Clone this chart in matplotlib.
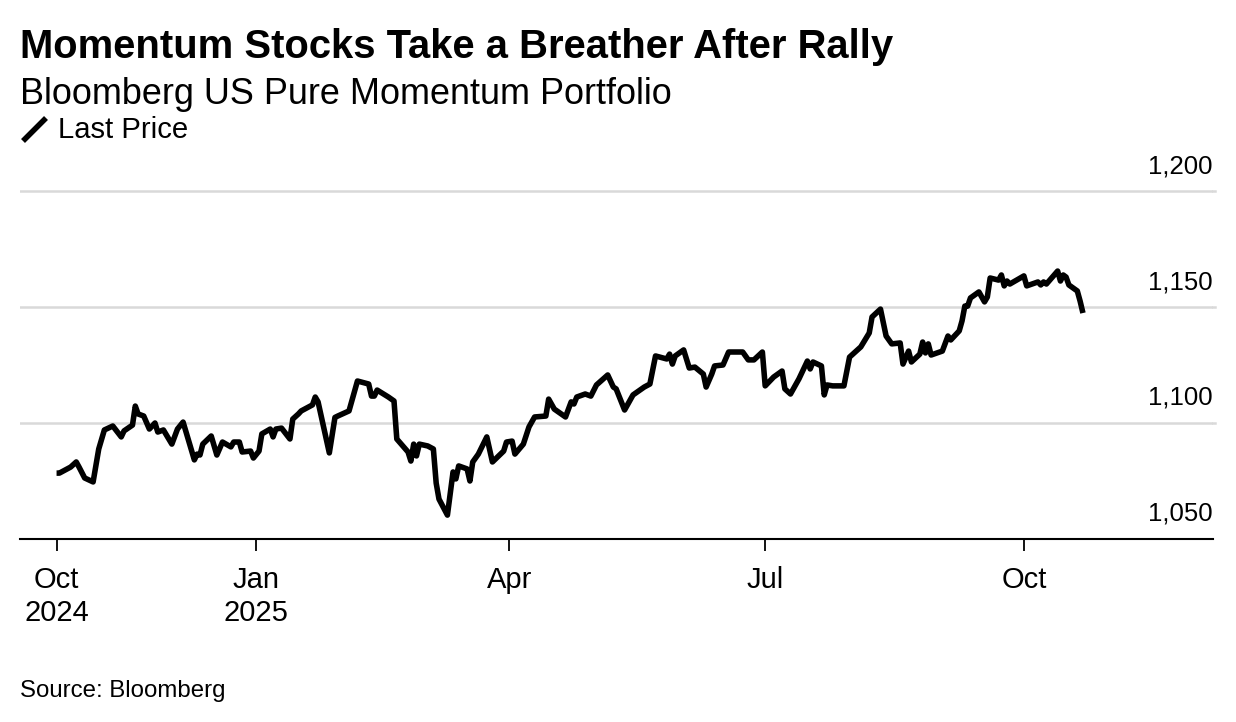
import pandas as pd
import matplotlib
matplotlib.use("Agg")
import matplotlib.pyplot as plt
import matplotlib.transforms as mtransforms
from matplotlib.lines import Line2D

plt.rcParams['font.family'] = ['Liberation Sans', 'DejaVu Sans']

# Bloomberg US Pure Momentum Portfolio, last price
dates = [
    "2024-10-22", "2024-10-23", "2024-10-27", "2024-10-29", "2024-10-30", "2024-11-01",
    "2024-11-04", "2024-11-06", "2024-11-08", "2024-11-11", "2024-11-14", "2024-11-15",
    "2024-11-18", "2024-11-19", "2024-11-20", "2024-11-22", "2024-11-24", "2024-11-26",
    "2024-11-27", "2024-11-29", "2024-12-02", "2024-12-04", "2024-12-06", "2024-12-10",
    "2024-12-11", "2024-12-12", "2024-12-13", "2024-12-16", "2024-12-18", "2024-12-20",
    "2024-12-23", "2024-12-24", "2024-12-26", "2024-12-27", "2024-12-30", "2024-12-31",
    "2025-01-02", "2025-01-03", "2025-01-06", "2025-01-07", "2025-01-08", "2025-01-10",
    "2025-01-13", "2025-01-14", "2025-01-16", "2025-01-17", "2025-01-21", "2025-01-22",
    "2025-01-23", "2025-01-27", "2025-01-29", "2025-01-30", "2025-02-03", "2025-02-06",
    "2025-02-10", "2025-02-11", "2025-02-12", "2025-02-13", "2025-02-17", "2025-02-19",
    "2025-02-20", "2025-02-24", "2025-02-25", "2025-02-26", "2025-02-27", "2025-02-28",
    "2025-03-03", "2025-03-05", "2025-03-06", "2025-03-07", "2025-03-10", "2025-03-12",
    "2025-03-13", "2025-03-14", "2025-03-17", "2025-03-18", "2025-03-19", "2025-03-21",
    "2025-03-24", "2025-03-26", "2025-03-30", "2025-03-31", "2025-04-02", "2025-04-03",
    "2025-04-06", "2025-04-08", "2025-04-10", "2025-04-14", "2025-04-15", "2025-04-17",
    "2025-04-21", "2025-04-23", "2025-04-24", "2025-04-25", "2025-04-28", "2025-04-30",
    "2025-05-02", "2025-05-06", "2025-05-08", "2025-05-09", "2025-05-12", "2025-05-15",
    "2025-05-19", "2025-05-21", "2025-05-23", "2025-05-27", "2025-05-28", "2025-05-29",
    "2025-05-30", "2025-06-02", "2025-06-04", "2025-06-06", "2025-06-09", "2025-06-10",
    "2025-06-12", "2025-06-13", "2025-06-16", "2025-06-18", "2025-06-23", "2025-06-25",
    "2025-06-27", "2025-06-30", "2025-07-01", "2025-07-04", "2025-07-07", "2025-07-08",
    "2025-07-10", "2025-07-13", "2025-07-16", "2025-07-17", "2025-07-18", "2025-07-21",
    "2025-07-22", "2025-07-23", "2025-07-25", "2025-07-29", "2025-07-31", "2025-08-04",
    "2025-08-07", "2025-08-08", "2025-08-11", "2025-08-13", "2025-08-15", "2025-08-18",
    "2025-08-19", "2025-08-21", "2025-08-22", "2025-08-25", "2025-08-26", "2025-08-27",
    "2025-08-28", "2025-08-29", "2025-09-02", "2025-09-04", "2025-09-05", "2025-09-08",
    "2025-09-09", "2025-09-10", "2025-09-11", "2025-09-12", "2025-09-15", "2025-09-17",
    "2025-09-18", "2025-09-19", "2025-09-22", "2025-09-23", "2025-09-24", "2025-09-25",
    "2025-09-26", "2025-10-01", "2025-10-02", "2025-10-06", "2025-10-07", "2025-10-08",
    "2025-10-09", "2025-10-13", "2025-10-14", "2025-10-15", "2025-10-16", "2025-10-17",
    "2025-10-20", "2025-10-21", "2025-10-22",
]
last_price = [
    1078.4, 1078.4, 1081.0, 1083.2, 1081.0, 1076.3,
    1074.6, 1088.8, 1097.0, 1098.7, 1094.0, 1096.6,
    1099.1, 1107.3, 1103.9, 1103.0, 1097.4, 1100.0,
    1096.1, 1097.0, 1090.9, 1097.4, 1100.4, 1084.1,
    1086.6, 1086.2, 1090.9, 1094.4, 1086.2, 1091.8,
    1089.7, 1091.8, 1091.8, 1087.5, 1087.9, 1084.9,
    1087.9, 1095.3, 1097.4, 1094.0, 1097.4, 1097.8,
    1093.1, 1101.7, 1103.9, 1105.2, 1107.8, 1111.2,
    1109.1, 1087.1, 1102.4, 1103.0, 1105.2, 1118.1,
    1116.8, 1111.6, 1111.6, 1114.2, 1111.2, 1109.5,
    1093.1, 1087.5, 1083.6, 1090.9, 1085.8, 1090.9,
    1090.1, 1088.8, 1074.1, 1067.2, 1060.3, 1078.9,
    1075.9, 1081.5, 1080.2, 1075.0, 1083.2, 1086.6,
    1094.0, 1083.2, 1087.9, 1091.8, 1092.2, 1086.6,
    1090.9, 1098.3, 1102.6, 1103.0, 1110.3, 1106.0,
    1102.6, 1109.1, 1108.2, 1111.2, 1112.5, 1111.6,
    1116.4, 1120.7, 1115.5, 1114.7, 1105.6, 1112.1,
    1115.5, 1116.8, 1128.9, 1127.6, 1129.7, 1125.4,
    1128.9, 1131.5, 1123.7, 1124.1, 1121.1, 1115.5,
    1121.1, 1124.6, 1125.0, 1130.6, 1130.6, 1127.2,
    1127.2, 1130.6, 1116.0, 1119.8, 1122.4, 1114.7,
    1112.5, 1119.0, 1126.7, 1123.3, 1126.3, 1124.6,
    1112.1, 1116.4, 1116.0, 1116.0, 1128.4, 1132.8,
    1138.8, 1145.7, 1149.1, 1137.5, 1134.1, 1134.5,
    1125.4, 1131.0, 1126.3, 1129.7, 1134.9, 1130.2,
    1134.1, 1129.3, 1131.0, 1137.5, 1135.8, 1139.7,
    1144.0, 1150.4, 1150.4, 1153.9, 1156.5, 1152.2,
    1154.3, 1162.5, 1161.6, 1163.8, 1159.1, 1161.2,
    1159.9, 1163.4, 1159.1, 1160.8, 1159.5, 1160.8,
    1159.9, 1165.5, 1161.2, 1163.8, 1162.9, 1159.5,
    1156.9, 1152.5, 1147.4,
]

tick_dates = ["2024-10-22", "2025-01-01", "2025-04-01", "2025-07-01", "2025-10-01"]
tick_labels = ["Oct\n2024", "Jan\n2025", "Apr", "Jul", "Oct"]
y_ticks = [1050, 1100, 1150, 1200]

W, H = 1236, 722
fig = plt.figure(figsize=(W / 100, H / 100), dpi=100)
ax = fig.add_axes([20 / W, (H - 539) / H, 1193 / W, 389 / H])

ax.plot(pd.to_datetime(dates), last_price, color='black', lw=4,
        solid_joinstyle='round', solid_capstyle='butt', zorder=3)

ax.set_xlim(pd.Timestamp("2024-10-09"), pd.Timestamp("2025-12-07 06:00"))
ax.set_ylim(1050, 1050 + 389 / 2.32)

ax.set_xticks(pd.to_datetime(tick_dates))
ax.set_xticklabels(tick_labels, fontsize=21, linespacing=1.22)
ax.tick_params(axis='x', length=8.5, width=1.3, pad=11, color='black')

ax.set_yticks(y_ticks)
ax.tick_params(axis='y', length=0, labelleft=False)
ax.yaxis.grid(True, color='#d9d9d9', lw=1.8, zorder=0)

for s in ['top', 'left', 'right']:
    ax.spines[s].set_visible(False)
ax.spines['bottom'].set_linewidth(1.5)
ax.spines['bottom'].set_zorder(4)

# y labels sit above their grid lines, right-aligned; grid runs a bit past the axis
trans = mtransforms.blended_transform_factory(ax.transAxes, ax.transData)
off = mtransforms.ScaledTranslation(0, 18 / 100, fig.dpi_scale_trans)
for v in y_ticks:
    ax.text(1.0, v, f"{v:,}", transform=trans + off, ha='right', va='baseline',
            fontsize=18.5)
for v in y_ticks[1:]:
    ax.plot([1.0, 1.0 + 2 / 1193], [v, v], transform=trans, color='#d9d9d9',
            lw=1.8, clip_on=False, zorder=0)

fig.text(20 / W, 1 - 58.5 / H, "Momentum Stocks Take a Breather After Rally",
         fontsize=28.8, fontweight='bold', va='baseline')
fig.text(20 / W, 1 - 103.5 / H, "Bloomberg US Pure Momentum Portfolio",
         fontsize=25.9, va='baseline')
fig.add_artist(Line2D([23 / W, 46 / W], [1 - 141 / H, 1 - 118 / H],
                      color='black', lw=4, solid_capstyle='butt'))
fig.text(58 / W, 1 - 138.5 / H, "Last Price", fontsize=21.1, va='baseline')
fig.text(20 / W, 1 - 697.5 / H, "Source: Bloomberg", fontsize=17.25, va='baseline')

fig.savefig("out.png", dpi=100)
